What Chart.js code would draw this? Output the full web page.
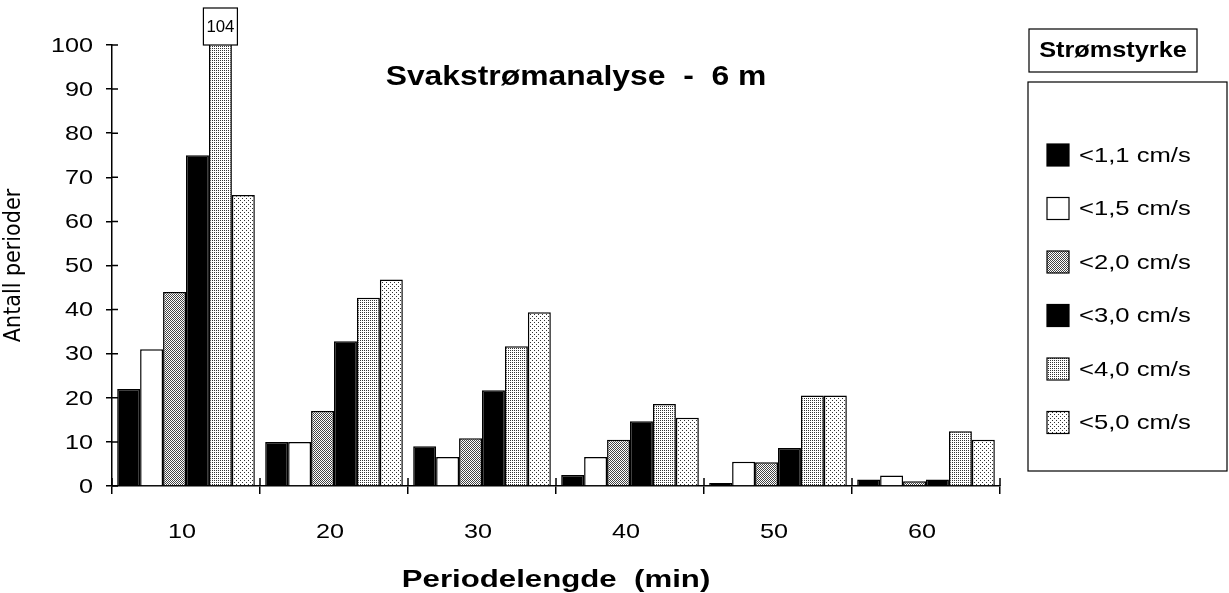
<!DOCTYPE html>
<html>
<head>
<meta charset="utf-8">
<script src="https://cdn.jsdelivr.net/npm/chart.js@4.4.1/dist/chart.umd.min.js"></script>
<style>
  html, body { margin: 0; padding: 0; background: #fff; }
  #wrap { width: 1229px; height: 593px; position: relative; }
</style>
</head>
<body>
<div id="wrap"><canvas id="chart" width="1229" height="593"></canvas></div>
<script>
// Data
const periods = ['10', '20', '30', '40', '50', '60'];
const speedLabels = ['<1,1 cm/s', '<1,5 cm/s', '<2,0 cm/s', '<3,0 cm/s', '<4,0 cm/s', '<5,0 cm/s'];
const under11 = [22, 10, 9, 2.5, 0.7, 1.5];
const under15 = [31, 10, 6.6, 6.6, 5.5, 2.4];
const under20 = [44, 17, 10.8, 10.5, 5.4, 1.1];
const under30 = [75, 32.8, 21.7, 14.7, 8.6, 1.5];
const under40 = [104, 42.7, 31.7, 18.6, 20.5, 12.4];
const under50 = [66, 46.8, 39.4, 15.5, 20.5, 10.5];
const yMax = 100;
const yStep = 10;

const FONT = "'Liberation Sans', Arial, sans-serif";
const NARROW = "'Liberation Sans Narrow', 'DejaVu Sans Condensed', sans-serif";

// small pixel patterns to imitate the screen tones
function makePattern(size, dots, dotColor) {
  const c = document.createElement('canvas');
  c.width = size; c.height = size;
  const g = c.getContext('2d');
  g.fillStyle = '#fff';
  g.fillRect(0, 0, size, size);
  g.fillStyle = dotColor;
  dots.forEach(d => g.fillRect(d[0], d[1], 1, 1));
  return g.createPattern(c, 'repeat');
}

const fills = [
  '#000',
  '#fff',
  makePattern(2, [[0, 0], [1, 1]], '#444'),
  '#000',
  makePattern(4, [[0, 0], [2, 2], [2, 0], [0, 2]], '#333'),
  makePattern(4, [[0, 0], [2, 2]], '#333')
];

const series = [under11, under15, under20, under30, under40, under50];

// the scanned lettering is wider than Arial -> draw it stretched
function wideText(ctx, text, x, y, font, sx, align) {
  ctx.save();
  ctx.translate(x, y);
  ctx.scale(sx, 1);
  ctx.font = font;
  ctx.textAlign = align || 'center';
  ctx.textBaseline = 'middle';
  ctx.fillStyle = '#000';
  ctx.fillText(text, 0, 0);
  ctx.restore();
}

// tick labels + inner tick marks (crossing the axes)
const axisMarks = {
  id: 'axisMarks',
  afterDraw(chart) {
    const { ctx, chartArea: a, scales } = chart;
    ctx.save();
    ctx.strokeStyle = '#000';
    ctx.lineWidth = 1.5;
    ctx.beginPath();
    scales.y.ticks.forEach(t => {
      const y = scales.y.getPixelForValue(t.value);
      ctx.moveTo(a.left, y); ctx.lineTo(a.left + 6, y);
    });
    const n = periods.length;
    for (let i = 0; i <= n; i++) {
      const x = a.left + i * (a.right - a.left) / n;
      ctx.moveTo(x, a.bottom); ctx.lineTo(x, a.bottom - 8);
    }
    ctx.stroke();
    ctx.restore();

    const tickFont = '21px ' + FONT;
    scales.y.ticks.forEach(t => {
      wideText(ctx, t.label, a.left - 19, scales.y.getPixelForValue(t.value) + 1, tickFont, 1.2, 'right');
    });
    scales.x.ticks.forEach((t, i) => {
      wideText(ctx, scales.x.getLabelForValue(t.value), scales.x.getPixelForTick(i) - 4, 532, tickFont, 1.2, 'center');
    });
  }
};

// value box for bars that go past the top of the axis
const overflowLabels = {
  id: 'overflowLabels',
  afterDatasetsDraw(chart) {
    const { ctx, chartArea: a } = chart;
    chart.data.datasets.forEach((ds, di) => {
      const meta = chart.getDatasetMeta(di);
      ds.data.forEach((v, i) => {
        if (v <= yMax) return;
        const bar = meta.data[i];
        const w = 34;
        const top = 8;
        ctx.save();
        ctx.fillStyle = '#fff';
        ctx.fillRect(bar.x - w / 2, top, w, a.top - top);
        ctx.strokeStyle = '#000';
        ctx.lineWidth = 1.2;
        ctx.strokeRect(bar.x - w / 2, top, w, a.top - top);
        ctx.restore();
        wideText(ctx, String(v), bar.x, (top + a.top) / 2 + 1, '16px ' + FONT, 1.05, 'center');
      });
    });
  }
};

// titles + boxed legend on the right
const decorations = {
  id: 'decorations',
  afterDraw(chart) {
    const { ctx, chartArea: a } = chart;

    wideText(ctx, 'Svakstrømanalyse  -  6 m', 576, 78, 'bold 27px ' + FONT, 1.18, 'center');
    wideText(ctx, 'Periodelengde  (min)', (a.left + a.right) / 2, 580, 'bold 24px ' + FONT, 1.3, 'center');

    // y axis title
    ctx.save();
    ctx.translate(14, (a.top + a.bottom) / 2);
    ctx.rotate(-Math.PI / 2);
    ctx.font = '23px ' + NARROW;
    ctx.textAlign = 'center';
    ctx.textBaseline = 'middle';
    ctx.fillStyle = '#000';
    ctx.fillText('Antall perioder', 0, 0);
    ctx.restore();

    // legend title box + legend box
    ctx.save();
    ctx.strokeStyle = '#000';
    ctx.lineWidth = 1.2;
    ctx.strokeRect(1029, 29, 168, 43);
    ctx.strokeRect(1028, 82, 199, 389);
    ctx.restore();
    wideText(ctx, 'Strømstyrke', 1113, 51, 'bold 22px ' + FONT, 1.15, 'center');

    // legend items
    chart.data.datasets.forEach((ds, i) => {
      const cy = 155 + i * 53.5;
      ctx.save();
      ctx.fillStyle = ds.backgroundColor;
      ctx.fillRect(1047, cy - 11, 22, 22);
      ctx.strokeStyle = '#000';
      ctx.lineWidth = 1.2;
      ctx.strokeRect(1047, cy - 11, 22, 22);
      ctx.restore();
      wideText(ctx, ds.label, 1079, cy + 1, '21px ' + FONT, 1.22, 'left');
    });
  }
};

new Chart(document.getElementById('chart'), {
  type: 'bar',
  data: {
    labels: periods,
    datasets: series.map((d, i) => ({
      label: speedLabels[i],
      data: d,
      backgroundColor: fills[i],
      borderColor: '#000',
      borderWidth: 1.5,
      categoryPercentage: 0.93,
      barPercentage: 1.0
    }))
  },
  options: {
    responsive: false,
    animation: false,
    layout: { padding: { top: 45, right: 229, left: 0, bottom: 0 } },
    plugins: {
      legend: { display: false },
      tooltip: { enabled: false }
    },
    scales: {
      x: {
        afterFit: s => { s.height = 107; },
        border: { display: true, color: '#000', width: 1.5 },
        grid: { offset: true, drawOnChartArea: false, drawTicks: true, tickLength: 8, color: '#000', lineWidth: 1.5 },
        ticks: { color: 'rgba(0,0,0,0)', font: { family: FONT, size: 21 }, padding: 24, maxRotation: 0 },
        title: { display: false }
      },
      y: {
        min: 0,
        max: yMax,
        afterFit: s => { s.width = 112; },
        border: { display: true, color: '#000', width: 1.5 },
        grid: { drawOnChartArea: false, drawTicks: true, tickLength: 6, color: '#000', lineWidth: 1.5 },
        ticks: { stepSize: yStep, color: 'rgba(0,0,0,0)', font: { family: FONT, size: 21 }, padding: 12 },
        title: { display: false }
      }
    }
  },
  plugins: [axisMarks, overflowLabels, decorations]
});
</script>
</body>
</html>
